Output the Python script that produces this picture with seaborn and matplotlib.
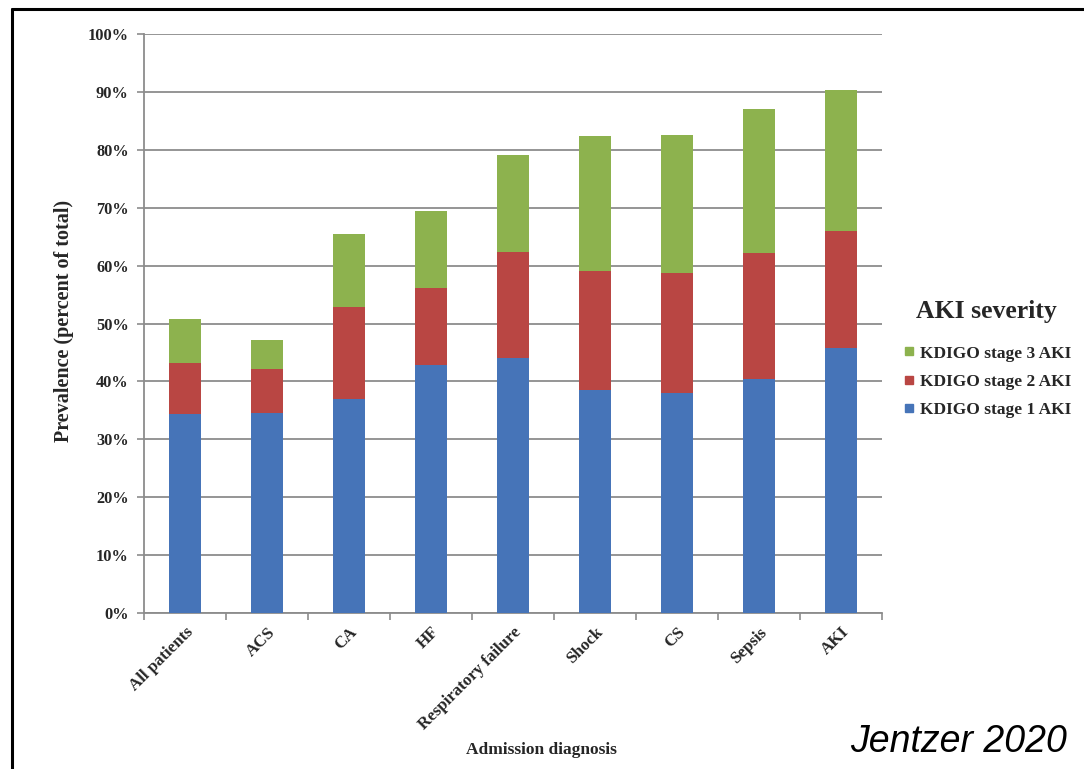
import matplotlib
matplotlib.use("Agg")
import matplotlib.pyplot as plt
from matplotlib.lines import Line2D
import numpy as np
import pandas as pd
import seaborn as sns

# Admission diagnoses and AKI prevalence per KDIGO stage (percent of total)
categories = ["All patients", "ACS", "CA", "HF", "Respiratory failure",
              "Shock", "CS", "Sepsis", "AKI"]
stage1 = [34.3, 34.5, 37.0, 42.9, 44.0, 38.6, 38.0, 40.5, 45.8]
stage2 = [8.8, 7.7, 15.8, 13.3, 18.3, 20.4, 20.8, 21.7, 20.1]
stage3 = [7.6, 5.0, 12.6, 13.3, 16.8, 23.3, 23.7, 24.8, 24.4]
y_ticks = list(range(0, 101, 10))
series_names = ["KDIGO stage 1 AKI", "KDIGO stage 2 AKI", "KDIGO stage 3 AKI"]

c_blue = "#4674B8"
c_red = "#B94643"
c_green = "#8DB24E"
grid_c = "#8C8C8C"

sns.set_theme(style="white")
plt.rcParams["font.family"] = ["Liberation Serif", "DejaVu Serif"]

df = pd.DataFrame({"diagnosis": categories,
                   "s1": stage1, "s2": stage2, "s3": stage3})
df["top2"] = df["s1"] + df["s2"]
df["top3"] = df["top2"] + df["s3"]

fig = plt.figure(figsize=(10.84, 7.69), dpi=100)
ax = fig.add_axes([144 / 1084, 1 - 613 / 769, (882 - 144) / 1084, (613 - 34) / 769])

# stacked bars: draw cumulative totals back-to-front
for col, color in [("top3", c_green), ("top2", c_red), ("s1", c_blue)]:
    sns.barplot(data=df, x="diagnosis", y=col, color=color, saturation=1,
                width=0.39, ax=ax, zorder=3, linewidth=0)

ax.set_ylim(0, 100)
ax.set_xlim(-0.5, len(categories) - 0.5)
ax.set_yticks(y_ticks)
ax.set_yticklabels([f"{t}%" for t in y_ticks], fontsize=11.8, fontweight="bold")
ax.yaxis.grid(True, color=grid_c, linewidth=1.3, zorder=0)
ax.set_axisbelow(True)

# category labels centered under bars, tick marks between categories
ax.set_xticks(range(len(categories)))
ax.set_xticklabels(categories, rotation=45, ha="right", va="top",
                   rotation_mode="anchor", fontsize=12.2, fontweight="bold")
ax.tick_params(axis="x", which="major", length=0, pad=8)
ax.set_xticks(np.arange(-0.5, len(categories)), minor=True)
ax.tick_params(axis="x", which="minor", length=5, color=grid_c, width=1.2,
               direction="out", bottom=True)
ax.tick_params(axis="y", length=5, color=grid_c, width=1.2, direction="out",
               left=True, pad=6)

for side in ["top", "right"]:
    ax.spines[side].set_visible(False)
for side in ["left", "bottom"]:
    ax.spines[side].set_color(grid_c)
    ax.spines[side].set_linewidth(1.3)

ax.set_xlabel("Admission diagnosis", fontsize=12.5, fontweight="bold")
ax.xaxis.set_label_coords(0.538, -0.222)
ax.set_ylabel("Prevalence (percent of total)", fontsize=14.5, fontweight="bold")
ax.yaxis.set_label_coords(-0.095, 0.504)

# legend, stage 3 listed first
handles = [Line2D([], [], marker="s", linestyle="none", markersize=6,
                  markerfacecolor=c, markeredgecolor=c)
           for c in (c_green, c_red, c_blue)]
leg = fig.legend(handles, series_names[::-1], loc="center left",
                 bbox_to_anchor=(0.8245, 0.533), frameon=False,
                 title="AKI severity", handletextpad=0.3, handlelength=0.7,
                 labelspacing=0.7, borderpad=0,
                 prop={"weight": "bold", "size": 12.5})
leg.get_title().set_fontsize(18.5)
leg.get_title().set_fontweight("bold")
leg._legend_box.sep = 16

fig.text(1067 / 1084, 1 - 742 / 769, "Jentzer 2020", ha="right", va="center",
         fontsize=27, style="italic", family="Liberation Sans", color="black")

# outer frame lines along the top and left edges
fx = 11.5 / 1084
fy = 1 - 8.5 / 769
fig.add_artist(Line2D([fx, fx], [0, fy], transform=fig.transFigure,
                      color="black", linewidth=2.2))
fig.add_artist(Line2D([fx, 1], [fy, fy], transform=fig.transFigure,
                      color="black", linewidth=2.2))

fig.savefig("out.png", dpi=100)
